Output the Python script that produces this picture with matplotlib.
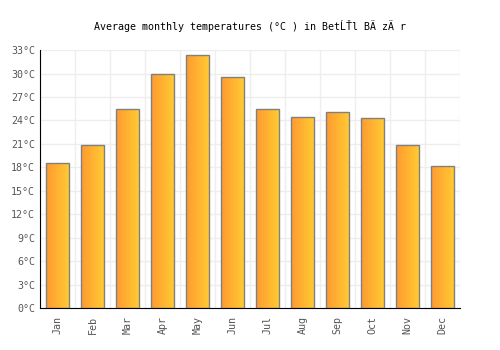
import numpy as np
import matplotlib
matplotlib.use("Agg")
import matplotlib.pyplot as plt
from matplotlib.colors import LinearSegmentedColormap

# veri
months = ["Jan", "Feb", "Mar", "Apr", "May", "Jun", "Jul", "Aug", "Sep", "Oct", "Nov", "Dec"]
temps = [18.5, 20.9, 25.5, 29.9, 32.4, 29.5, 25.4, 24.4, 25.1, 24.3, 20.9, 18.2]
yticks = list(range(0, 34, 3))
ylabels = [f"{t}°C" for t in yticks]
title = "Average monthly temperatures (°C ) in BetĹŤl BÄ zÄ r"

plt.rcParams["font.family"] = ["DejaVu Sans Mono"]

fig = plt.figure(figsize=(5, 3.5), dpi=100)
ax = fig.add_axes([0.08, 0.12, 0.84, 0.737])

x = np.arange(len(months))
bars = ax.bar(x, temps, width=0.67, color="none", edgecolor="#808080", linewidth=1, zorder=3)

# gradient dolgu
cmap = LinearSegmentedColormap.from_list("grad", ["#ff9a30", "#ffcc33"])
grad = np.linspace(0, 1, 64).reshape(1, -1)
for b in bars:
    x0, w, h = b.get_x(), b.get_width(), b.get_height()
    im = ax.imshow(grad, cmap=cmap, extent=[x0, x0 + w, 0, h], aspect="auto", zorder=2)
    im.set_clip_path(b)

ax.set_xlim(-0.5, 11.5)
ax.set_ylim(0, 33)
ax.set_xticks(x)
ax.set_xticklabels(months, rotation=90, color="#555555", fontsize=7.2)
ax.set_yticks(yticks)
ax.set_yticklabels(ylabels, color="#555555", fontsize=7.2)
ax.set_xticks(np.arange(-0.5, 12, 1), minor=True)
ax.tick_params(which="both", length=0)
ax.tick_params(axis="x", pad=6)

ax.grid(True, axis="y", color="#eeeeee", linewidth=1, zorder=0)
ax.grid(True, axis="x", which="minor", color="#eeeeee", linewidth=1, zorder=0)
ax.set_axisbelow(True)

for s in ["top", "right"]:
    ax.spines[s].set_visible(False)
ax.spines["left"].set_color("black")
ax.spines["bottom"].set_color("black")

fig.text(0.5, 0.925, title, ha="center", va="center", fontsize=7.2, color="black")

fig.savefig("out.png", dpi=100)
